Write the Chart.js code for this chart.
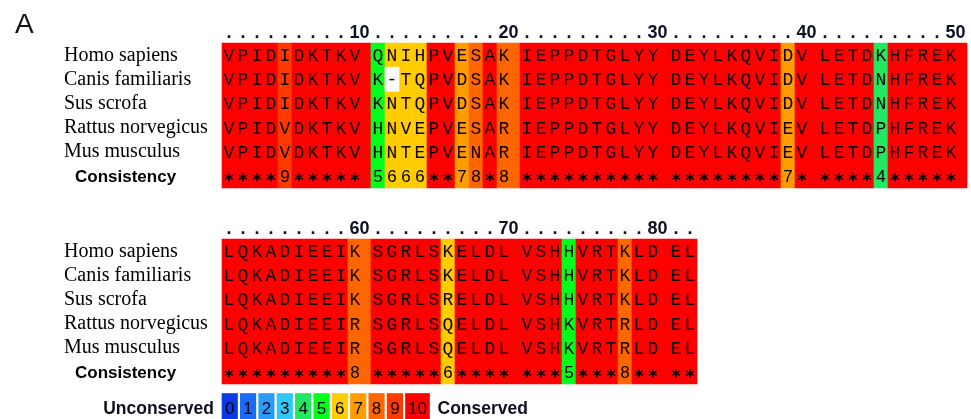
<!DOCTYPE html>
<html>
<head>
<meta charset="utf-8">
<script src="https://cdn.jsdelivr.net/npm/chart.js@4.4.0/dist/chart.umd.min.js"></script>
<style>
  html, body { margin: 0; padding: 0; background: #fff; }
  #wrap { width: 971px; height: 419px; }
</style>
</head>
<body>
<div id="wrap"><canvas id="alignChart" width="971" height="419"></canvas></div>
<script>
// ---- values ----
const panelLabel = 'A';
const species = ['Homo sapiens', 'Canis familiaris', 'Sus scrofa', 'Rattus norvegicus', 'Mus musculus'];
const consistencyLabel = 'Consistency';

// residues 1-50
const block1Start = 1;
const block1Seqs = [
    'VPIDIDKTKV QNIHPVESAK IEPPDTGLYY DEYLKQVIDV LETDKHFREK',
    'VPIDIDKTKV K-TQPVDSAK IEPPDTGLYY DEYLKQVIDV LETDNHFREK',
    'VPIDIDKTKV KNTQPVDSAK IEPPDTGLYY DEYLKQVIDV LETDNHFREK',
    'VPIDVDKTKV HNVEPVESAR IEPPDTGLYY DEYLKQVIEV LETDPHFREK',
    'VPIDVDKTKV HNTEPVENAR IEPPDTGLYY DEYLKQVIEV LETDPHFREK'
];
const block1Consistency = '****9***** 5666**78*8 ********** ********7* ****4*****';

// residues 51-82
const block2Start = 51;
const block2Seqs = [
    'LQKADIEEIK SGRLSKELDL VSHHVRTKLD EL',
    'LQKADIEEIK SGRLSKELDL VSHHVRTKLD EL',
    'LQKADIEEIK SGRLSRELDL VSHHVRTKLD EL',
    'LQKADIEEIR SGRLSQELDL VSHKVRTRLD EL',
    'LQKADIEEIR SGRLSQELDL VSHKVRTRLD EL'
];
const block2Consistency = '*********8 *****6**** ***5***8** **';

// colour scale 0 (unconserved) .. 10 (conserved)
const scaleValues = [0, 1, 2, 3, 4, 5, 6, 7, 8, 9, 10];
const scaleColors = ['#0a3ae8', '#1a6cf6', '#2a9cf8', '#30c8f6', '#22e862', '#00ff1a',
                     '#ffcc00', '#ff9c00', '#ff6600', '#ff3a00', '#ff0000'];
const scaleEnds = ['Unconserved', 'Conserved'];

// ---- layout (px) ----
const W = 971, H = 419;
const LEFT = 222, COL_W = 14, GROUP_GAP = 9, ROW_H = 24.17;
const BLOCK_TOP = [43, 239];
const LABEL_X = 64, CONS_LABEL_X = 75;
const LEG_TOP = 393.5, LEG_BOTTOM = 423, LEG_PITCH = 18.35, LEG_W = 15.5, LEG_W_LAST = 24;

const GU = GROUP_GAP / COL_W;
const strip = s => s.replace(/ /g, '');
const score = ch => ch === '*' ? 10 : Number(ch);
const colLeft = k => k + Math.floor(k / 10) * GU;
const colCenter = k => colLeft(k) + 0.5;
const yv = px => (px - BLOCK_TOP[0]) / ROW_H;

const blocks = [
    { start: block1Start, seqs: block1Seqs.map(strip), cons: strip(block1Consistency), top: yv(BLOCK_TOP[0]) },
    { start: block2Start, seqs: block2Seqs.map(strip), cons: strip(block2Consistency), top: yv(BLOCK_TOP[1]) }
];

// ---- datasets ----
const colData = [], colColors = [], gapData = [], gapColors = [], blankData = [];
blocks.forEach(b => {
    const nRows = b.seqs.length + 1;
    for (let k = 0; k < b.cons.length; k++) {
        const c = scaleColors[score(b.cons[k])];
        colData.push({ x: colCenter(k), y: [b.top, b.top + nRows] });
        colColors.push(c);
        if (k % 10 === 9) {
            gapData.push({ x: colLeft(k) + 1 + GU / 2, y: [b.top, b.top + nRows] });
            gapColors.push(c);
        }
        b.seqs.forEach((s, r) => {
            if (s[k] === '-') blankData.push({ x: colCenter(k), y: [b.top + r, b.top + r + 1] });
        });
    }
});

const legY = [yv(LEG_TOP), yv(LEG_BOTTOM)];
const legCenter = (i, w) => (i * LEG_PITCH + w / 2) / COL_W;
const legData = scaleValues.slice(0, 10).map(v => ({ x: legCenter(v, LEG_W), y: legY }));
const legLast = [{ x: legCenter(10, LEG_W_LAST), y: legY }];

const common = { grouped: false, borderWidth: 0 };

const textPlugin = {
    id: 'alignmentText',
    afterDatasetsDraw(chart) {
        const { ctx, scales: { x, y } } = chart;
        ctx.save();
        ctx.textBaseline = 'alphabetic';

        ctx.fillStyle = '#111';
        ctx.font = '28px "Liberation Sans", Arial, sans-serif';
        ctx.textAlign = 'left';
        ctx.fillText(panelLabel, 15, 33);

        blocks.forEach(b => {
            // ruler
            const rulerBase = y.getPixelForValue(b.top) - 5;
            ctx.fillStyle = '#0d1020';
            ctx.font = 'bold 18px "Liberation Sans", Arial, sans-serif';
            ctx.textAlign = 'center';
            for (let k = 0; k < b.cons.length; k++) {
                const pos = b.start + k;
                if (pos % 10 === 0) {
                    ctx.fillText(String(pos), x.getPixelForValue(colLeft(k) + (1 + GU) / 2), rulerBase);
                } else {
                    ctx.fillText('.', x.getPixelForValue(colCenter(k)), rulerBase);
                }
            }

            // row labels
            ctx.textAlign = 'left';
            ctx.fillStyle = '#000';
            ctx.font = '20px "Liberation Serif", "Times New Roman", serif';
            species.forEach((name, r) => {
                ctx.fillText(name, LABEL_X, y.getPixelForValue(b.top + r + 0.5) + 5.5);
            });
            const consRow = b.top + b.seqs.length + 0.5;
            ctx.font = 'bold 17px "Liberation Sans", Arial, sans-serif';
            ctx.fillText(consistencyLabel, CONS_LABEL_X, y.getPixelForValue(consRow) + 6);

            // residues
            ctx.textAlign = 'center';
            ctx.fillStyle = '#120000';
            ctx.font = '18px "Liberation Mono", "Courier New", monospace';
            b.seqs.forEach((s, r) => {
                const py = y.getPixelForValue(b.top + r + 0.5) + 6;
                for (let k = 0; k < s.length; k++) {
                    ctx.fillText(s[k], x.getPixelForValue(colCenter(k)), py);
                }
            });

            // consistency symbols
            const cy = y.getPixelForValue(consRow);
            ctx.fillStyle = '#000';
            for (let k = 0; k < b.cons.length; k++) {
                const ch = b.cons[k];
                const px = x.getPixelForValue(colCenter(k));
                if (ch === '*') {
                    ctx.font = 'bold 18px "DejaVu Sans", sans-serif';
                    ctx.fillText('*', px, cy + 10.5);
                } else {
                    ctx.font = '17px "Liberation Sans", Arial, sans-serif';
                    ctx.fillText(ch, px, cy + 6);
                }
            }
        });

        // colour key
        const ly = (y.getPixelForValue(legY[0]) + y.getPixelForValue(legY[1])) / 2 + 6;
        ctx.fillStyle = '#000';
        ctx.font = '17px "Liberation Sans", Arial, sans-serif';
        ctx.textAlign = 'center';
        legData.forEach((d, i) => ctx.fillText(String(scaleValues[i]), x.getPixelForValue(d.x), ly));
        ctx.fillText(String(scaleValues[10]), x.getPixelForValue(legLast[0].x), ly);

        ctx.fillStyle = '#0d1020';
        ctx.font = 'bold 17.5px "Liberation Sans", Arial, sans-serif';
        ctx.textAlign = 'right';
        ctx.fillText(scaleEnds[0], x.getPixelForValue(0) - 8, ly);
        ctx.textAlign = 'left';
        ctx.fillText(scaleEnds[1], x.getPixelForValue(legLast[0].x) + LEG_W_LAST / 2 + 8, ly);

        ctx.restore();
    }
};

new Chart(document.getElementById('alignChart'), {
    type: 'bar',
    data: {
        datasets: [
            { ...common, label: 'gap', data: blankData, backgroundColor: '#ffffff', barThickness: COL_W, order: 0 },
            { ...common, label: 'columns', data: colData, backgroundColor: colColors, barThickness: COL_W, order: 1 },
            { ...common, label: 'group spacing', data: gapData, backgroundColor: gapColors, barThickness: GROUP_GAP, order: 1 },
            { ...common, label: 'key', data: legData, backgroundColor: scaleColors.slice(0, 10), barThickness: LEG_W, order: 1 },
            { ...common, label: 'key 10', data: legLast, backgroundColor: scaleColors[10], barThickness: LEG_W_LAST, order: 1 }
        ]
    },
    options: {
        responsive: false,
        animation: false,
        devicePixelRatio: 1,
        events: [],
        layout: { padding: 0 },
        plugins: { legend: { display: false }, tooltip: { enabled: false } },
        scales: {
            x: { type: 'linear', display: false, offset: false, bounds: 'data',
                 min: -LEFT / COL_W, max: (W - LEFT) / COL_W },
            y: { type: 'linear', display: false, offset: false, bounds: 'data', reverse: true,
                 min: yv(0), max: yv(H) }
        }
    },
    plugins: [textPlugin]
});
</script>
</body>
</html>
